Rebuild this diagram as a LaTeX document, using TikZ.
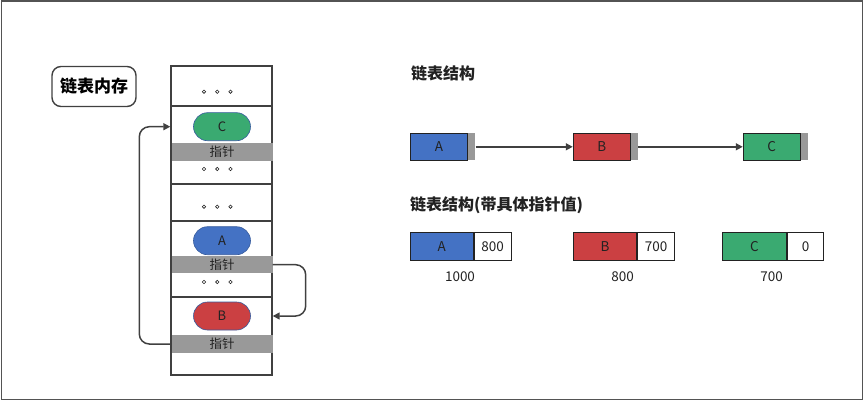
\documentclass[tikz,border=0pt]{standalone}
\usepackage{fontspec}
\setmainfont{Noto Sans CJK SC}
\usetikzlibrary{arrows.meta,calc}
\definecolor{cblue}{RGB}{68,114,196}
\definecolor{cred}{RGB}{203,64,66}
\definecolor{cgreen}{RGB}{58,170,113}
\definecolor{cgray}{RGB}{153,153,153}
\definecolor{cline}{RGB}{64,64,64}
\definecolor{ctext}{RGB}{34,34,34}
\tikzset{
  cell/.style={draw=cline, line width=1.4pt, minimum width=101pt, inner sep=0pt},
  bar/.style={fill=cgray, minimum width=101pt, minimum height=17.4pt, inner sep=0pt, font=\fontsize{12.5}{12.5}\selectfont, text=ctext},
  pill/.style={draw=cblue!80!black, line width=0.6pt, minimum width=57pt, minimum height=28pt, rounded corners=14pt, inner sep=0pt, font=\fontsize{13}{13}\selectfont, text=ctext},
  dotc/.style={draw=ctext, line width=0.6pt, fill=white, circle, inner sep=0pt, minimum size=3.4pt},
  vbox/.style={draw=ctext, line width=0.9pt, minimum height=27pt, inner sep=0pt, font=\fontsize{13.5}{13.5}\selectfont, text=ctext},
  ptab/.style={fill=cgray, minimum height=27pt, minimum width=7pt, inner sep=0pt},
  arr/.style={draw=cline, line width=1.5pt, -{Triangle[length=7pt,width=7pt]}},
  lbl/.style={font=\fontsize{13.5}{13.5}\selectfont, text=ctext, inner sep=0pt},
  ttl/.style={font=\fontsize{16}{16}\selectfont\bfseries, text=ctext, inner sep=0pt, anchor=west}
}
\begin{document}
\begin{tikzpicture}[x=1pt,y=-1pt]
\useasboundingbox (0,0) rectangle (864,401);
\draw[draw=cline!90, line width=1.6pt] (1.5,1) rectangle (862.5,399.5);
% label
\node[draw=cline, line width=1.4pt, rounded corners=9pt, minimum width=84pt, minimum height=40pt, inner sep=0pt, font=\fontsize{17}{17}\selectfont\bfseries, text=black] (mem) at (94,86.5) {链表内存};
% memory column
\node[cell, minimum height=40pt] (row1) at (221.5,86) {};
\node[cell, minimum height=78pt] (row2) at (221.5,145) {};
\node[cell, minimum height=37pt] (row3) at (221.5,202.5) {};
\node[cell, minimum height=76pt] (row4) at (221.5,259) {};
\node[cell, minimum height=78pt] (row5) at (221.5,336) {};
% dots
\foreach \n/\y in {d1/91.7, d2/169, d3/206.7, d4/282} {
  \node[dotc] (\n a) at (204,\y) {};
  \node[dotc] (\n b) at (217.3,\y) {};
  \node[dotc] (\n c) at (230.5,\y) {};
}
% pills
\node[pill, fill=cgreen] (ellC) at (222,126.7) {C};
\node[pill, fill=cblue] (ellA) at (222,240.7) {A};
\node[pill, fill=cred] (ellB) at (222,316) {B};
% bars
\node[bar] (barC) at (222,152) {指针};
\node[bar] (barA) at (222,264.7) {指针};
\node[bar] (barB) at (222,344) {指针};
% arrows in memory
\draw[arr, rounded corners=10pt] (barA.east) -- ++(33,0) |- (ellB -| row5.east);
\draw[arr, rounded corners=10pt] (barB.west) -- ++(-32,0) |- (ellC -| row2.west);
% right titles
\node[ttl] (t1) at (411,73.3) {链表结构};
\node[ttl] (t2) at (410,205) {链表结构(带具体指针值)};
% row 1 boxes
\node[vbox, fill=cblue, minimum width=57.4pt] (boxA) at (439,146.8) {A};
\node[ptab, anchor=west] (pA) at (boxA.east) {};
\node[vbox, fill=cred, minimum width=57pt] (boxB) at (601.7,146.8) {B};
\node[ptab, anchor=west] (pB) at (boxB.east) {};
\node[vbox, fill=cgreen, minimum width=57pt] (boxC) at (771.7,146.8) {C};
\node[ptab, anchor=west] (pC) at (boxC.east) {};
\draw[arr] (pA.east) -- (boxB.west);
\draw[arr] (pB.east) -- (boxC.west);
% row 2 boxes
\node[vbox, fill=cblue, minimum width=63pt, minimum height=28pt] (vA) at (441.8,246.3) {A};
\node[vbox, fill=white, minimum width=37pt, minimum height=28pt, anchor=west] (nA) at (vA.east) {800};
\node[vbox, fill=cred, minimum width=63.4pt, minimum height=28pt] (vB) at (605,246.3) {B};
\node[vbox, fill=white, minimum width=37pt, minimum height=28pt, anchor=west] (nB) at (vB.east) {700};
\node[vbox, fill=cgreen, minimum width=64.4pt, minimum height=28pt] (vC) at (754.5,246.3) {C};
\node[vbox, fill=white, minimum width=36pt, minimum height=28pt, anchor=west] (nC) at (vC.east) {0};
\node[lbl] (aA) at (460,276.7) {1000};
\node[lbl] (aB) at (622.7,276.7) {800};
\node[lbl] (aC) at (771.7,276.7) {700};
\end{tikzpicture}
\end{document}
